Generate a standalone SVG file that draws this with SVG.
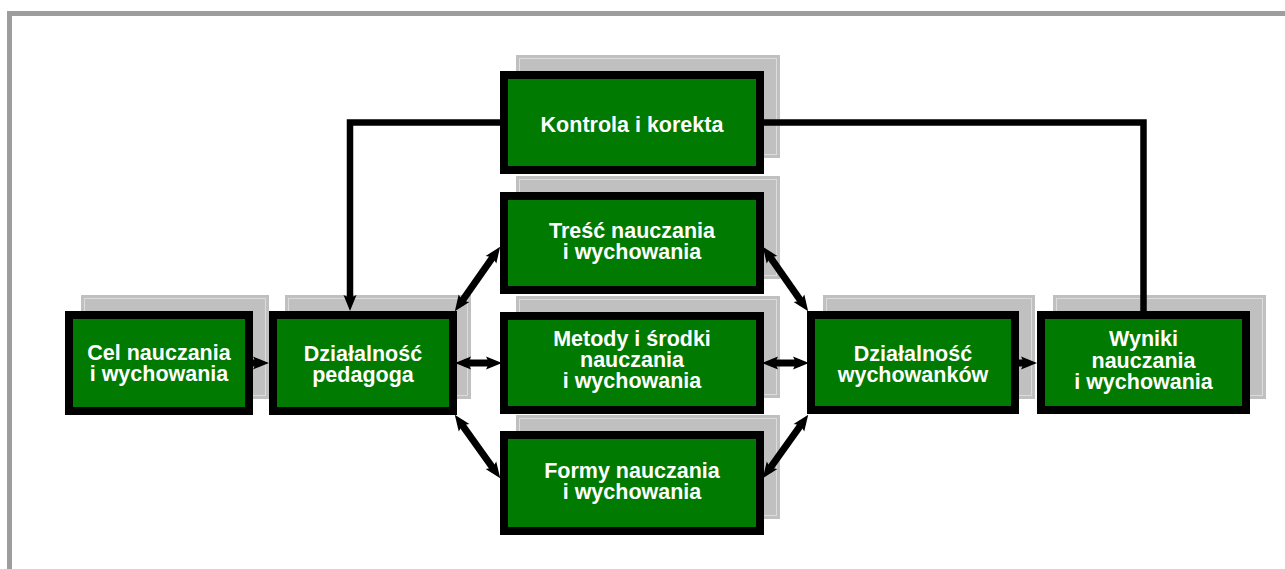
<svg xmlns="http://www.w3.org/2000/svg" width="1285" height="569" viewBox="0 0 1285 569">
<defs>
<style>
.frame{fill:#ffffff;stroke:#9d9d9d;stroke-width:5}
.sh{fill:#c0c0c0}
.shi{fill:none;stroke:#dcdcdc;stroke-width:1}
.box{fill:#007a00;stroke:#000000;stroke-width:8}
.t{font-family:"Liberation Sans",Arial,sans-serif;font-weight:bold;font-size:21.5px;fill:#ffffff;text-anchor:middle}
.c{fill:none;stroke:#000000;stroke-width:7;stroke-linejoin:miter;stroke-linecap:butt}
.c2{fill:none;stroke:#000000;stroke-width:6.5;stroke-linejoin:miter;stroke-linecap:butt}
.a1{marker-end:url(#ah)}
.a2{marker-start:url(#ah);marker-end:url(#ah)}
</style>
<marker id="ah" markerUnits="userSpaceOnUse" markerWidth="16" markerHeight="14" refX="7" refY="7" orient="auto-start-reverse" viewBox="0 0 16 14">
<path d="M0,0.5 L16,7 L0,13.5 L3,7 z" fill="#000000"/>
</marker>
</defs>
<rect class="frame" x="9.5" y="13.5" width="1300" height="600"/>

<g id="node-cel">
<rect class="sh" x="81" y="295" width="188" height="104"/>
<rect class="shi" x="84.5" y="298.5" width="181" height="97"/>
<rect class="box" x="69" y="315" width="180" height="96"/>
<text class="t"><tspan x="159" y="360">Cel nauczania</tspan><tspan x="159" y="381">i wychowania</tspan></text>
</g>

<g id="node-pedagog">
<rect class="sh" x="285" y="295" width="186" height="104"/>
<rect class="shi" x="288.5" y="298.5" width="179" height="97"/>
<rect class="box" x="273" y="315" width="180" height="96"/>
<text class="t"><tspan x="363" y="361">Działalność</tspan><tspan x="363" y="382">pedagoga</tspan></text>
</g>

<g id="node-kontrola">
<rect class="sh" x="516" y="55" width="264" height="103"/>
<rect class="shi" x="519.5" y="58.5" width="257" height="96"/>
<rect class="box" x="504" y="75" width="256" height="95"/>
<text class="t" x="632" y="132">Kontrola i korekta</text>
</g>

<g id="node-tresc">
<rect class="sh" x="516" y="176" width="264" height="103"/>
<rect class="shi" x="519.5" y="179.5" width="257" height="96"/>
<rect class="box" x="504" y="196" width="256" height="94"/>
<text class="t"><tspan x="632" y="238">Treść nauczania</tspan><tspan x="632" y="259">i wychowania</tspan></text>
</g>

<g id="node-metody">
<rect class="sh" x="516" y="296" width="264" height="102"/>
<rect class="shi" x="519.5" y="299.5" width="257" height="95"/>
<rect class="box" x="504" y="316" width="256" height="94"/>
<text class="t"><tspan x="632" y="346">Metody i środki</tspan><tspan x="632" y="367">nauczania</tspan><tspan x="632" y="388">i wychowania</tspan></text>
</g>

<g id="node-formy">
<rect class="sh" x="516" y="415" width="264" height="104"/>
<rect class="shi" x="519.5" y="418.5" width="257" height="97"/>
<rect class="box" x="504" y="435" width="256" height="96"/>
<text class="t"><tspan x="632" y="478">Formy nauczania</tspan><tspan x="632" y="499">i wychowania</tspan></text>
</g>

<g id="node-wychowankow">
<rect class="sh" x="823" y="295" width="212" height="104"/>
<rect class="shi" x="826.5" y="298.5" width="205" height="97"/>
<rect class="box" x="811" y="315" width="204" height="95"/>
<text class="t"><tspan x="913" y="361">Działalność</tspan><tspan x="913" y="382">wychowanków</tspan></text>
</g>

<g id="node-wyniki">
<rect class="sh" x="1053" y="295" width="213" height="104"/>
<rect class="shi" x="1056.5" y="298.5" width="206" height="97"/>
<rect class="box" x="1041" y="315" width="205" height="95"/>
<text class="t"><tspan x="1143.5" y="346">Wyniki</tspan><tspan x="1143.5" y="368">nauczania</tspan><tspan x="1143.5" y="389">i wychowania</tspan></text>
</g>

<g id="connectors">
<polyline class="c2 a1" points="500,122.5 350,122.5 350,302"/>
<polyline class="c2" points="1143.5,311 1143.5,122.5 764,122.5"/>
<line class="c a1" x1="253" y1="363" x2="260" y2="363"/>
<line class="c a2" x1="464" y1="363" x2="493" y2="363"/>
<line class="c a2" x1="771" y1="363" x2="800" y2="363"/>
<line class="c a1" x1="1019" y1="363" x2="1028" y2="363"/>
<line class="c a2" x1="460" y1="304" x2="495" y2="254"/>
<line class="c a2" x1="460" y1="422" x2="495" y2="471"/>
<line class="c a2" x1="768" y1="254" x2="803" y2="304"/>
<line class="c a2" x1="768" y1="471" x2="803" y2="422"/>
</g>
</svg>
